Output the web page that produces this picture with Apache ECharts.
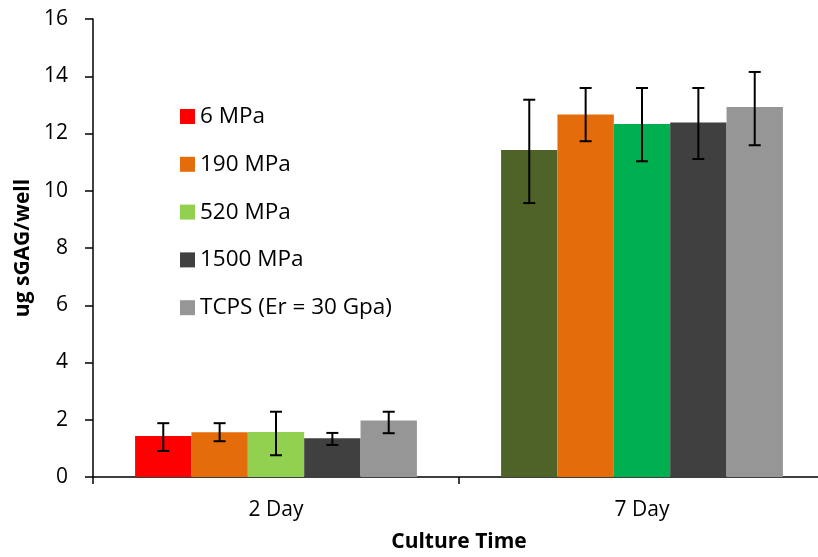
<!DOCTYPE html>
<html>
<head>
<meta charset="utf-8">
<script src="https://cdn.jsdelivr.net/npm/echarts@6/dist/echarts.min.js"></script>
<style>html,body{margin:0;padding:0;background:#fff}#c{width:818px;height:557px}</style>
</head>
<body>
<div id="c"></div>
<script>
// ---- data ----
const categories = ['2 Day', '7 Day'];
const seriesNames = ['6 MPa', '190 MPa', '520 MPa', '1500 MPa', 'TCPS (Er = 30 Gpa)'];
const mean6 = [1.43, 11.42];
const mean190 = [1.56, 12.66];
const mean520 = [1.57, 12.33];
const mean1500 = [1.35, 12.38];
const meanTCPS = [1.97, 12.93];
const low6 = [0.91, 9.57],   high6 = [1.88, 13.18];
const low190 = [1.25, 11.73], high190 = [1.88, 13.59];
const low520 = [0.76, 11.03], high520 = [2.28, 13.59];
const low1500 = [1.12, 11.11], high1500 = [1.54, 13.59];
const lowTCPS = [1.53, 11.59], highTCPS = [2.28, 14.15];
const yTicks = { min: 0, max: 16, interval: 2 };

// ---- styles ----
const colors2Day = ['#FF0000', '#E46C0A', '#92D050', '#404040', '#969696'];
const colors7Day = ['#4F6228', '#E46C0A', '#00B050', '#404040', '#969696'];
const FONT = 'Open Sans';
const GAP = 0.23;

const means = [mean6, mean190, mean520, mean1500, meanTCPS];
const lows = [low6, low190, low520, low1500, lowTCPS];
const highs = [high6, high190, high520, high1500, highTCPS];

const barSeries = seriesNames.map((name, s) => ({
  name: name,
  type: 'bar',
  barGap: '0%',
  barCategoryGap: (GAP * 100) + '%',
  itemStyle: { color: colors2Day[s] },
  data: means[s].map((v, c) => ({
    value: v,
    itemStyle: { color: c === 0 ? colors2Day[s] : colors7Day[s] }
  }))
}));

const errData = [];
seriesNames.forEach((n, s) => {
  categories.forEach((c, ci) => {
    errData.push([ci, lows[s][ci], highs[s][ci], s]);
  });
});

const errSeries = {
  type: 'custom',
  name: 'err',
  z: 10,
  silent: true,
  data: errData,
  encode: { x: 0, y: [1, 2] },
  renderItem: function (params, api) {
    const cat = api.value(0), lo = api.value(1), hi = api.value(2), s = api.value(3);
    const catW = api.size([1, 0])[0];
    const bw = catW * (1 - GAP) / 5;
    const x = api.coord([cat, 0])[0] + (s - 2) * bw;
    const yHi = api.coord([cat, hi])[1];
    const yLo = api.coord([cat, lo])[1];
    const cw = 6;
    const st = { stroke: '#000', lineWidth: 2 };
    return {
      type: 'group',
      children: [
        { type: 'line', shape: { x1: x, y1: yHi, x2: x, y2: yLo }, style: st },
        { type: 'line', shape: { x1: x - cw, y1: yHi, x2: x + cw, y2: yHi }, style: st },
        { type: 'line', shape: { x1: x - cw, y1: yLo, x2: x + cw, y2: yLo }, style: st }
      ]
    };
  }
};

const chart = echarts.init(document.getElementById('c'));
chart.setOption({
  animation: false,
  backgroundColor: '#fff',
  textStyle: { fontFamily: FONT },
  grid: { left: 93, right: -7, top: 19, bottom: 80, outerBoundsMode: 'none', containLabel: false },
  legend: {
    data: seriesNames,
    orient: 'vertical',
    left: 180,
    top: 105,
    padding: 0,
    itemGap: 24.8,
    itemWidth: 15,
    itemHeight: 15,
    icon: 'rect',
    textStyle: { fontFamily: FONT, fontSize: 22.5, color: '#000', lineHeight: 22 }
  },
  xAxis: {
    type: 'category',
    data: categories,
    name: 'Culture Time',
    nameLocation: 'middle',
    nameGap: 55,
    nameTextStyle: { fontFamily: FONT, fontSize: 21, fontWeight: 'bold', color: '#000' },
    axisLine: { lineStyle: { color: '#000', width: 1.5 } },
    axisTick: { show: true, length: 7, inside: false, lineStyle: { color: '#000', width: 1.5 } },
    axisLabel: { fontFamily: FONT, fontSize: 21, color: '#000', margin: 23 }
  },
  yAxis: {
    type: 'value',
    min: yTicks.min,
    max: yTicks.max,
    interval: yTicks.interval,
    name: 'ug sGAG/well',
    nameLocation: 'middle',
    nameGap: 58,
    nameTextStyle: { fontFamily: FONT, fontSize: 21, fontWeight: 'bold', color: '#000' },
    splitLine: { show: false },
    axisLine: { show: true, lineStyle: { color: '#000', width: 1.5 } },
    axisTick: { show: true, length: 8, lineStyle: { color: '#000', width: 1.5 } },
    axisLabel: { fontFamily: FONT, fontSize: 21, color: '#000', margin: 25 }
  },
  series: barSeries.concat([errSeries])
});
</script>
</body>
</html>
